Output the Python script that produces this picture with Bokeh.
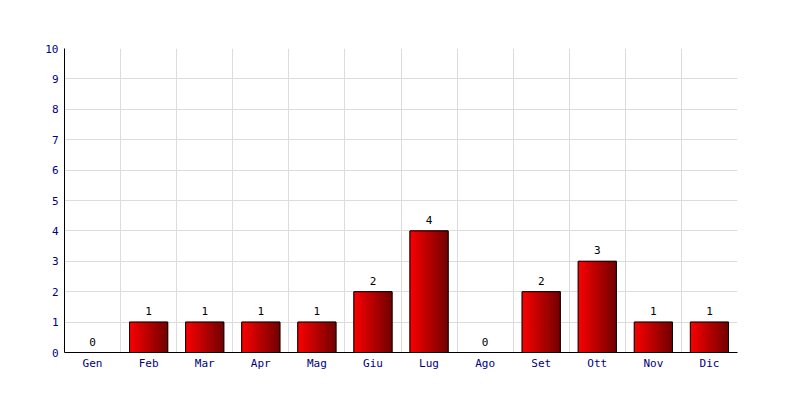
from bokeh.plotting import figure
from bokeh.models import Range1d, FixedTicker, ColumnDataSource
from bokeh.embed import file_html
from bokeh.resources import INLINE
from bokeh.core.properties import value

months = ["Gen", "Feb", "Mar", "Apr", "Mag", "Giu", "Lug", "Ago", "Set", "Ott", "Nov", "Dic"]
counts = [0, 1, 1, 1, 1, 2, 4, 0, 2, 3, 1, 1]
y_ticks = list(range(0, 11))

FONT = "DejaVu Sans Mono"
BAR_W = 0.68
N_STRIPS = 38

p = figure(width=784, height=384, output_backend="svg", toolbar_location=None,
           x_range=Range1d(0, len(months)), y_range=Range1d(0, 10),
           min_border_left=64, min_border_right=47, min_border_top=48, min_border_bottom=32)
p.outline_line_color = None
p.background_fill_color = "white"
p.border_fill_color = "white"

# grid
p.xgrid.ticker = FixedTicker(ticks=list(range(len(months) + 1)))
p.ygrid.ticker = FixedTicker(ticks=y_ticks)
p.xgrid.grid_line_color = "#dcdcdc"
p.ygrid.grid_line_color = "#dcdcdc"

# gradient bars built from strips
sx, sy, sc = [], [], []
for i, v in enumerate(counts):
    if v <= 0:
        continue
    left = i + 0.5 - BAR_W / 2
    for k in range(N_STRIPS):
        t = k / (N_STRIPS - 1)
        r = int(250 - (250 - 118) * t)
        sx.append(left + (k + 0.5) * BAR_W / N_STRIPS)
        sy.append(v)
        sc.append("#%02x0000" % r)
p.vbar(x=sx, top=sy, bottom=0, width=BAR_W / N_STRIPS, fill_color=sc, line_color=sc, line_width=1)

centers = [i + 0.5 for i in range(len(months))]
bx = [c for c, v in zip(centers, counts) if v > 0]
bt = [v for v in counts if v > 0]
p.vbar(x=bx, top=bt, bottom=0, width=BAR_W, fill_color=None, line_color="black", line_width=1)

# value labels
src = ColumnDataSource(dict(x=centers, y=counts, t=[str(v) for v in counts]))
p.text(x="x", y="y", text="t", source=src, text_align="center", text_baseline="bottom",
       y_offset=-7, text_font=value(FONT), text_font_size="11px", text_color="black")

# axes
p.xaxis.ticker = FixedTicker(ticks=centers)
p.xaxis.major_label_overrides = {c: m for c, m in zip(centers, months)}
p.yaxis.ticker = FixedTicker(ticks=y_ticks)
for ax in (p.xaxis[0], p.yaxis[0]):
    ax.axis_line_color = "black"
    ax.major_tick_line_color = None
    ax.minor_tick_line_color = None
    ax.major_tick_out = 0
    ax.major_tick_in = 0
    ax.major_label_text_font = FONT
    ax.major_label_text_font_size = "11px"
    ax.major_label_text_color = "#000080"
p.xaxis.major_label_standoff = 4
p.yaxis.major_label_standoff = 6

open("out.html", "w").write(file_html(p, INLINE))
